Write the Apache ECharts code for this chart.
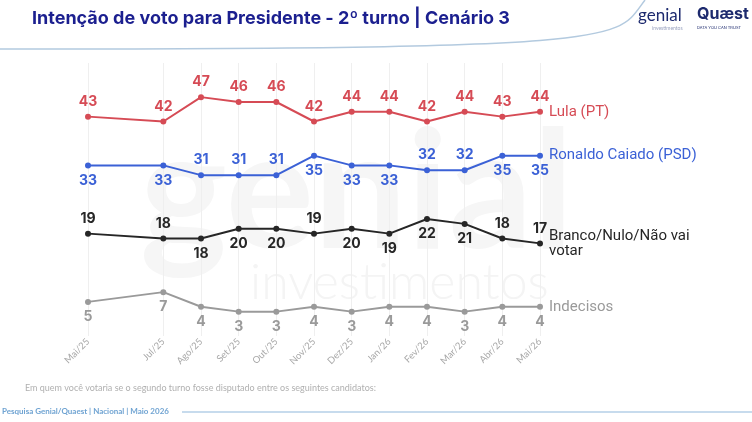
<!DOCTYPE html>
<html>
<head>
<meta charset="utf-8">
<script src="https://cdn.jsdelivr.net/npm/echarts@6/dist/echarts.min.js"></script>
<style>
  html, body { margin: 0; padding: 0; background: #fff; }
  #chart { width: 752px; height: 422px; }
</style>
</head>
<body>
<div id="chart"></div>
<script>
// meses (jun/25 sem pesquisa -> rótulo vazio)
var months = ['Mai/25', '', 'Jul/25', 'Ago/25', 'Set/25', 'Out/25', 'Nov/25', 'Dez/25', 'Jan/26', 'Fev/26', 'Mar/26', 'Abr/26', 'Mai/26'];
var lula = [43, null, 42, 47, 46, 46, 42, 44, 44, 42, 44, 43, 44];
var caiado = [33, null, 33, 31, 31, 31, 35, 33, 33, 32, 32, 35, 35];
var branco = [19, null, 18, 18, 20, 20, 19, 20, 19, 22, 21, 18, 17];
var indecisos = [5, null, 7, 4, 3, 3, 4, 3, 4, 4, 3, 4, 4];

// onde fica o número de cada ponto
var caiadoPos = ['bottom', null, 'bottom', 'top', 'top', 'top', 'bottom', 'bottom', 'bottom', 'top', 'top', 'bottom', 'bottom'];
var brancoPos = ['top', null, 'top', 'bottom', 'bottom', 'bottom', 'top', 'bottom', 'bottom', 'bottom', 'bottom', 'top', 'top'];

var corLula = '#d64b55';
var corCaiado = '#3b61d6';
var corBranco = '#262626';
var corIndec = '#9a9a9a';

function makeData(vals, pos, defPos) {
  return vals.map(function (v, i) {
    if (v === null) return null;
    return { value: v, label: { position: pos ? pos[i] : defPos } };
  });
}

function makeSeries(name, vals, pos, defPos, color, endText) {
  return {
    name: name,
    type: 'line',
    data: makeData(vals, pos, defPos),
    connectNulls: true,
    symbol: 'circle',
    symbolSize: 6,
    lineStyle: { color: color, width: 2 },
    itemStyle: { color: color },
    label: {
      show: true,
      color: color,
      fontSize: 14,
      fontWeight: 'bold',
      fontFamily: 'Inter',
      distance: 5
    },
    endLabel: {
      show: true,
      distance: 9,
      color: color,
      fontSize: 15,
      fontFamily: 'Roboto',
      lineHeight: 15,
      formatter: function () { return endText; }
    },
    emphasis: { disabled: true }
  };
}

var dom = document.getElementById('chart');
var myChart = echarts.init(dom, null, { renderer: 'canvas' });

var option = {
  animation: false,
  backgroundColor: '#fff',
  grid: {
    left: 88,
    right: 212,
    top: 63,
    bottom: 86
  },
  xAxis: {
    type: 'category',
    data: months,
    boundaryGap: false,
    axisLine: { show: false },
    axisTick: { show: false },
    splitLine: {
      show: true,
      interval: function (index, value) { return value !== ''; },
      lineStyle: { color: '#efefef', width: 1 }
    },
    axisLabel: {
      interval: 0,
      rotate: 45,
      margin: 4,
      color: '#a8a8a8',
      fontSize: 9.5,
      fontFamily: 'Lato'
    }
  },
  yAxis: {
    type: 'value',
    min: -2,
    max: 54,
    show: false,
    splitLine: { show: false }
  },
  graphic: [
    // marca d'água
    {
      type: 'text', left: 140, top: 112, z: -10, silent: true,
      style: { text: 'genial', fill: '#f6f6f6', font: 'bold 165px "Lato"' }
    },
    {
      type: 'text', left: 250, top: 258, z: -10, silent: true,
      style: { text: 'investimentos', fill: '#f4f4f4', font: '300 50px "Lato"' }
    },
    // cabeçalho
    {
      type: 'text', left: 32, top: 10,
      style: { text: 'Intenção de voto para Presidente - 2º turno | Cenário 3', fill: '#1b1f8f', font: 'bold 18px "Inter"' }
    },
    {
      type: 'bezierCurve',
      shape: { x1: 0, y1: 49, x2: 645, y2: 0, cpx1: 640, cpy1: 49, cpx2: 615, cpy2: 40 },
      style: { stroke: '#b3cadf', lineWidth: 1.5, fill: null }
    },
    {
      type: 'text', left: 638, top: 7,
      style: { text: 'genial', fill: '#1d2a6e', font: '17px "Lato"' }
    },
    {
      type: 'text', left: 652, top: 26,
      style: { text: 'investimentos', fill: '#9aa3c0', font: '5px "Lato"' }
    },
    {
      type: 'text', left: 697, top: 6,
      style: { text: 'Quæst', fill: '#1d2a6e', font: 'bold 16px "Inter"' }
    },
    {
      type: 'text', left: 697, top: 26,
      style: { text: 'DATA YOU CAN TRUST', fill: '#1d2a6e', font: '4px "Inter"' }
    },
    // rodapé
    {
      type: 'text', left: 25, top: 384,
      style: { text: 'Em quem você votaria se o segundo turno fosse disputado entre os seguintes candidatos:', fill: '#b0b0b0', font: '9px "Lato"' }
    },
    {
      type: 'text', left: 2, top: 407,
      style: { text: 'Pesquisa Genial/Quaest | Nacional | Maio 2026', fill: '#6fa3d2', font: 'bold 8px "Lato"' }
    },
    {
      type: 'line',
      shape: { x1: 182, y1: 412, x2: 752, y2: 412 },
      style: { stroke: '#8fb7db', lineWidth: 1 }
    }
  ],
  series: [
    makeSeries('Lula (PT)', lula, null, 'top', corLula, 'Lula (PT)'),
    makeSeries('Ronaldo Caiado (PSD)', caiado, caiadoPos, null, corCaiado, 'Ronaldo Caiado (PSD)'),
    makeSeries('Branco/Nulo/Não vai votar', branco, brancoPos, null, corBranco, 'Branco/Nulo/Não vai\nvotar'),
    makeSeries('Indecisos', indecisos, null, 'bottom', corIndec, 'Indecisos')
  ]
};

if (option && typeof option === 'object') {
  myChart.setOption(option);
}

window.addEventListener('resize', myChart.resize);
</script>
</body>
</html>
